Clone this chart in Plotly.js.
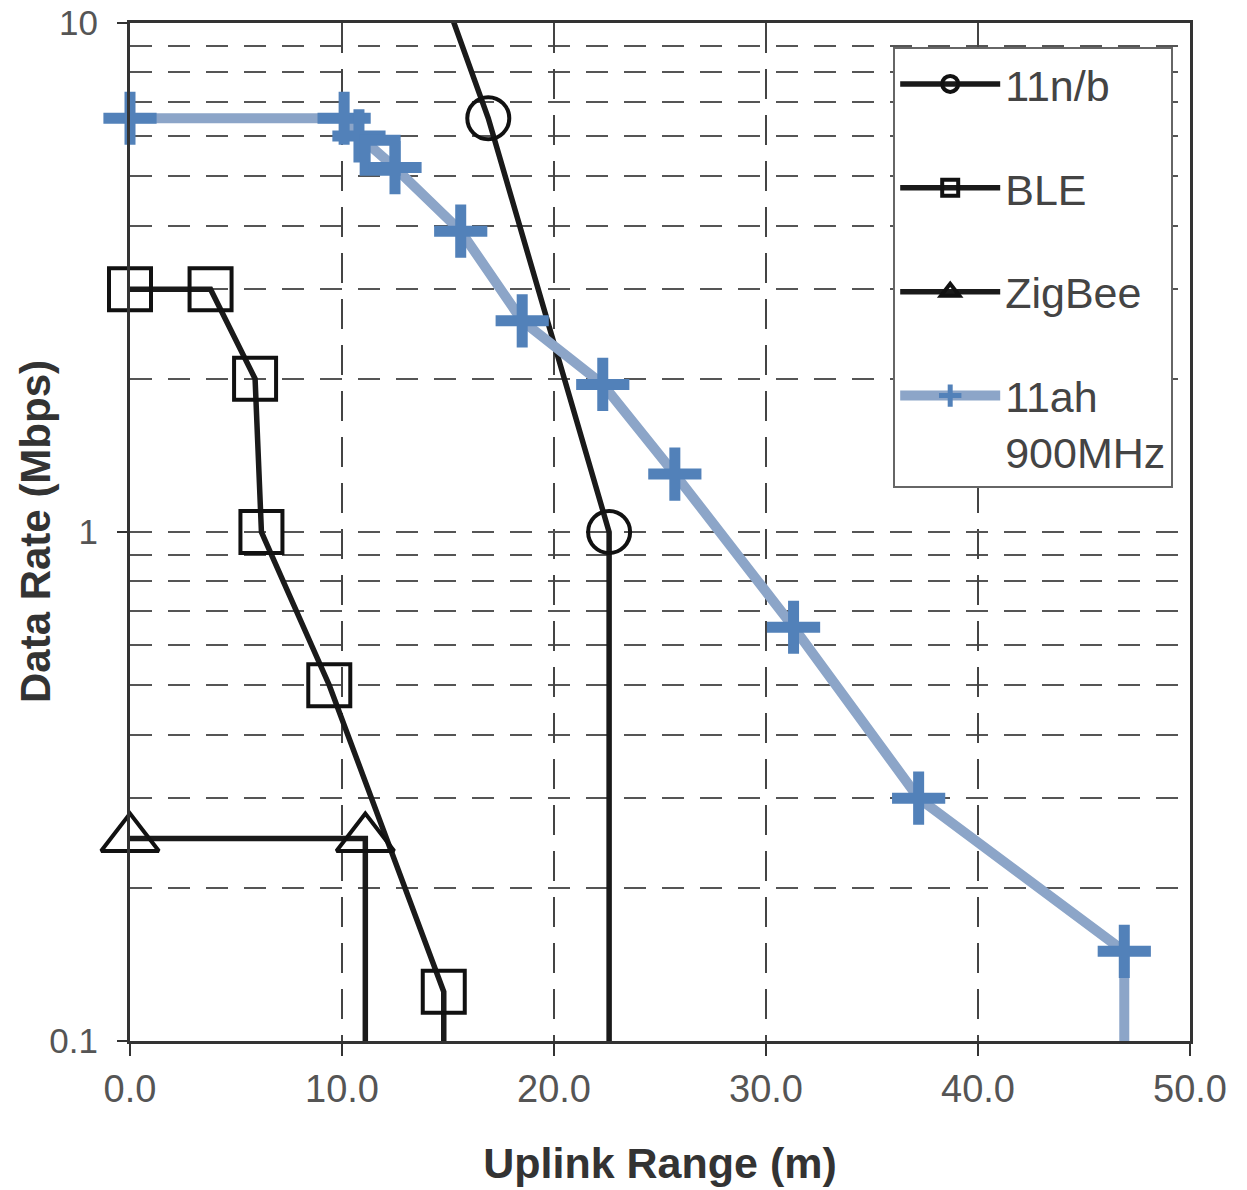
<!DOCTYPE html>
<html>
<head>
<meta charset="utf-8">
<script src="https://cdn.plot.ly/plotly-3.0.1.min.js"></script>
<style>
html,body{margin:0;padding:0;background:#fff;}
#chart{width:1247px;height:1190px;}
</style>
</head>
<body>
<div id="chart"></div>
<script>
// ---- data ----
const nbX = [14.3, 16.9, 22.6, 22.6];
const nbY = [13, 6.5, 1.0, 0.1];
const nbMarker = [0, 42, 42, 0];

const bleX = [0, 3.8, 5.9, 6.2, 9.4, 14.8, 14.8];
const bleY = [3, 3, 2, 1, 0.5, 0.125, 0.1];
const bleMarker = [42, 42, 42, 42, 42, 42, 0];

const zbX = [0, 11.1, 11.1];
const zbY = [0.25, 0.25, 0.1];
const zbMarker = [50, 50, 0];

const ahX = [0, 10.1, 10.8, 11.8, 12.5, 15.6, 18.5, 22.3, 25.7, 31.3, 37.2, 46.9, 46.9];
const ahY = [6.5, 6.5, 6.0, 5.5, 5.2, 3.9, 2.6, 1.95, 1.3, 0.65, 0.3, 0.15, 0.1];
const ahMarker = [38, 38, 38, 30, 38, 38, 38, 38, 38, 38, 38, 38, 0];
const ahSymbol = ['cross-thin','cross-thin','cross-thin','square-open','cross-thin','cross-thin','cross-thin','cross-thin','cross-thin','cross-thin','cross-thin','cross-thin','cross-thin'];

const xTicks = [0, 10, 20, 30, 40, 50];
const yTicks = [0.1, 1, 10];
const yMinor = [0.2,0.3,0.4,0.5,0.6,0.7,0.8,0.9,2,3,4,5,6,7,8,9];

const names = ['11n/b', 'BLE', 'ZigBee', '11ah<br>900MHz'];
const xTitle = 'Uplink Range (m)';
const yTitle = 'Data Rate (Mbps)';

// ---- traces ----
const dark = '#1a1a1a';
const blueLine = '#8ca5c8';
const blueMark = '#5281b9';

const traces = [
  {x: nbX, y: nbY, name: names[0], mode: 'lines+markers', legendgroup: 'a',
   line: {color: dark, width: 5.5},
   marker: {symbol: 'circle-open', size: nbMarker, opacity: 1, color: '#111', line: {width: 4, color: '#111'}},
   cliponaxis: false},
  {x: bleX, y: bleY, name: names[1], mode: 'lines+markers', legendgroup: 'b',
   line: {color: dark, width: 5.5},
   marker: {symbol: 'square-open', size: bleMarker, opacity: 1, color: '#111', line: {width: 4, color: '#111'}},
   cliponaxis: false},
  {x: zbX, y: zbY, name: names[2], mode: 'lines+markers', legendgroup: 'c',
   line: {color: dark, width: 5.5},
   marker: {symbol: 'triangle-up-open', size: zbMarker, opacity: 1, color: '#111', line: {width: 4, color: '#111'}},
   cliponaxis: false},
  {x: ahX, y: ahY, name: names[3], mode: 'lines+markers', legendgroup: 'd',
   line: {color: blueLine, width: 10},
   marker: {symbol: ahSymbol, size: ahMarker, opacity: 1, color: blueMark, line: {width: 11, color: blueMark}},
   cliponaxis: false}
];

const font = 'Liberation Sans, Arial, Helvetica, sans-serif';

const layout = {
  width: 1247, height: 1190,
  margin: {l: 130, r: 57, t: 23, b: 149},
  paper_bgcolor: '#fff', plot_bgcolor: '#fff',
  font: {family: font, color: '#444'},
  showlegend: true,
  legend: {
    x: 0.72, y: 0.976, xanchor: 'left', yanchor: 'top',
    bgcolor: '#fff', bordercolor: '#666', borderwidth: 2,
    font: {size: 43, color: '#444', family: font},
    itemwidth: 100, tracegroupgap: 45, traceorder: 'grouped', valign: 'top'
  },
  xaxis: {
    range: [0, 50], tickvals: xTicks, tickformat: '.1f',
    showline: true, mirror: true, linecolor: '#333', linewidth: 3,
    ticks: 'outside', ticklen: 12, tickwidth: 2, tickcolor: '#333',
    tickfont: {size: 38, color: '#555'}, ticklabeloverflow: 'allow',
    showgrid: true, gridcolor: '#444', gridwidth: 2, griddash: '30px,16px',
    zeroline: false,
    title: {text: '<b>' + xTitle + '</b>', font: {size: 43, color: '#333'}, standoff: 40}
  },
  yaxis: {
    type: 'log', range: [-1, 1.0001], tickvals: yTicks,
    showline: true, mirror: true, linecolor: '#333', linewidth: 3,
    ticks: 'outside', ticklen: 10, tickwidth: 2, tickcolor: '#333',
    tickfont: {size: 35, color: '#555'}, ticklabelstandoff: 12, ticklabeloverflow: 'allow',
    showgrid: true, gridcolor: '#555', gridwidth: 2, griddash: '22px,16px',
    zeroline: false,
    minor: {tickvals: yMinor, showgrid: true, gridcolor: '#555', gridwidth: 2, griddash: '22px,16px', ticks: ''},
    automargin: false
  },
  annotations: [{
    text: '<b>' + yTitle + '</b>', textangle: -90,
    xref: 'paper', yref: 'paper', x: -0.0896, y: 0.5,
    xanchor: 'center', yanchor: 'middle', showarrow: false,
    font: {size: 42, color: '#333', family: font}
  }]
};

Plotly.newPlot('chart', traces, layout, {displayModeBar: false, staticPlot: true});
</script>
</body>
</html>
